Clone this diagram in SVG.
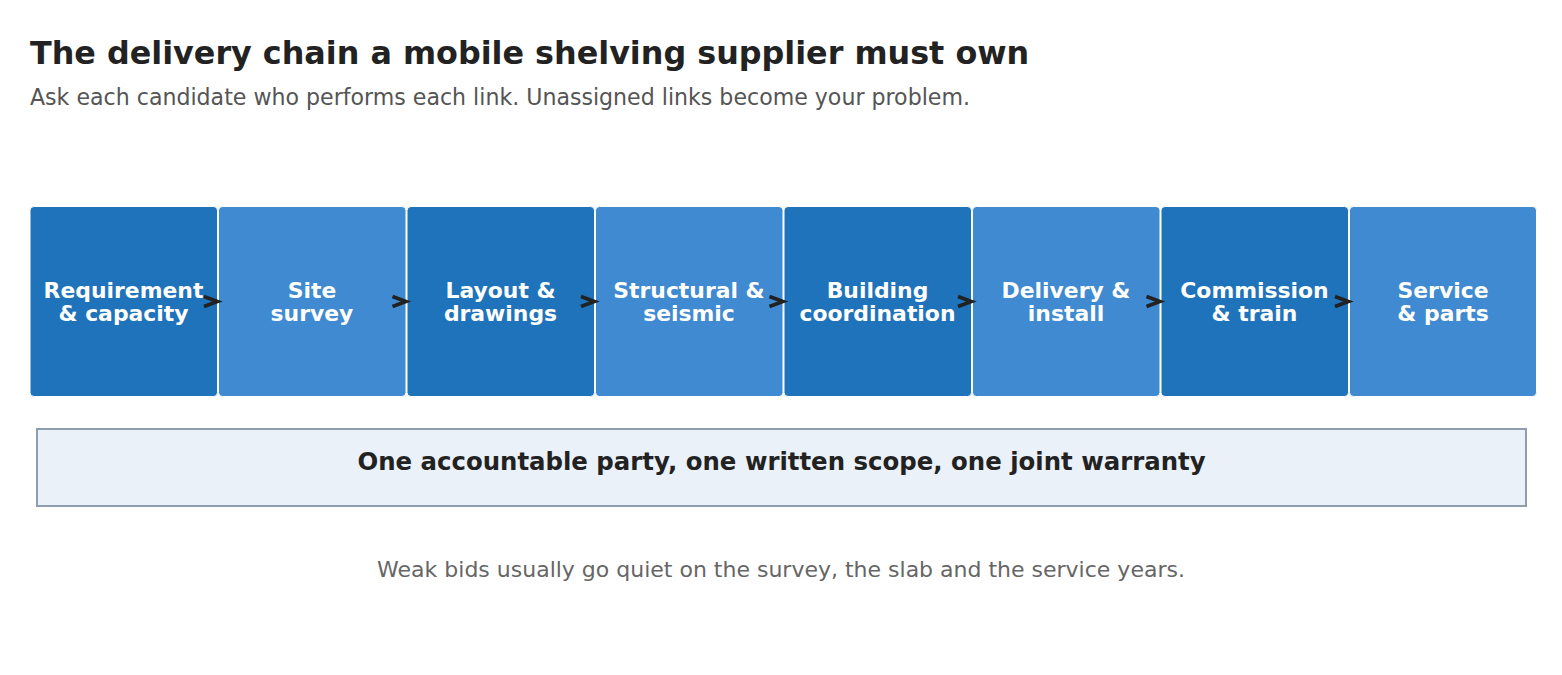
<svg xmlns="http://www.w3.org/2000/svg" width="1562" height="675" viewBox="0 0 1562 675">
<defs>
<style>
.title{font-family:"DejaVu Sans",sans-serif;font-weight:bold;font-size:31.8px;fill:#222222}
.sub{font-family:"DejaVu Sans",sans-serif;font-size:22.1px;fill:#555555}
.dark{fill:#1f73bb;stroke:#ffffff;stroke-width:1}
.light{fill:#3f8ad0;stroke:#ffffff;stroke-width:1}
.lbl{font-family:"DejaVu Sans",sans-serif;font-weight:bold;font-size:21.9px;fill:#ffffff;text-anchor:middle}
.chev{fill:none;stroke:#222222;stroke-width:3.6;stroke-linecap:butt;stroke-linejoin:miter}
.banner{fill:#ebf1f9;stroke:#8f9dae;stroke-width:2}
.btxt{font-family:"DejaVu Sans",sans-serif;font-weight:bold;font-size:24.4px;fill:#222222;text-anchor:middle}
.foot{font-family:"DejaVu Sans",sans-serif;font-size:22px;fill:#666666;text-anchor:middle}
</style>
</defs>
<rect width="1562" height="675" fill="#ffffff"/>
<text class="title" x="30" y="64">The delivery chain a mobile shelving supplier must own</text>
<text class="sub" x="30" y="105">Ask each candidate who performs each link. Unassigned links become your problem.</text>

<g id="n1"><rect class="dark" x="30" y="206.5" width="187.5" height="190" rx="4"/><text class="lbl" x="123.5" y="297.5">Requirement</text><text class="lbl" x="123.5" y="320.5">&amp; capacity</text></g>
<g id="n2"><rect class="light" x="218.5" y="206.5" width="187.5" height="190" rx="4"/><text class="lbl" x="312" y="297.5">Site</text><text class="lbl" x="312" y="320.5">survey</text></g>
<g id="n3"><rect class="dark" x="407" y="206.5" width="187.5" height="190" rx="4"/><text class="lbl" x="500.5" y="297.5">Layout &amp;</text><text class="lbl" x="500.5" y="320.5">drawings</text></g>
<g id="n4"><rect class="light" x="595.5" y="206.5" width="187.5" height="190" rx="4"/><text class="lbl" x="689" y="297.5">Structural &amp;</text><text class="lbl" x="689" y="320.5">seismic</text></g>
<g id="n5"><rect class="dark" x="784" y="206.5" width="187.5" height="190" rx="4"/><text class="lbl" x="877.5" y="297.5">Building</text><text class="lbl" x="877.5" y="320.5">coordination</text></g>
<g id="n6"><rect class="light" x="972.5" y="206.5" width="187.5" height="190" rx="4"/><text class="lbl" x="1066" y="297.5">Delivery &amp;</text><text class="lbl" x="1066" y="320.5">install</text></g>
<g id="n7"><rect class="dark" x="1161" y="206.5" width="187.5" height="190" rx="4"/><text class="lbl" x="1254.5" y="297.5">Commission</text><text class="lbl" x="1254.5" y="320.5">&amp; train</text></g>
<g id="n8"><rect class="light" x="1349.5" y="206.5" width="187" height="190" rx="4"/><text class="lbl" x="1443" y="297.5">Service</text><text class="lbl" x="1443" y="320.5">&amp; parts</text></g>

<g id="connectors">
<path class="chev" d="M204,296.5 L217.5,301.5 L204,306.5"/>
<path class="chev" d="M392.5,296.5 L406,301.5 L392.5,306.5"/>
<path class="chev" d="M581,296.5 L594.5,301.5 L581,306.5"/>
<path class="chev" d="M769.5,296.5 L783,301.5 L769.5,306.5"/>
<path class="chev" d="M958,296.5 L971.5,301.5 L958,306.5"/>
<path class="chev" d="M1146.5,296.5 L1160,301.5 L1146.5,306.5"/>
<path class="chev" d="M1335,296.5 L1348.5,301.5 L1335,306.5"/>
</g>

<g id="banner"><rect class="banner" x="37" y="429" width="1489" height="77"/><text class="btxt" x="781.5" y="470">One accountable party, one written scope, one joint warranty</text></g>
<text class="foot" x="781" y="577">Weak bids usually go quiet on the survey, the slab and the service years.</text>
</svg>
